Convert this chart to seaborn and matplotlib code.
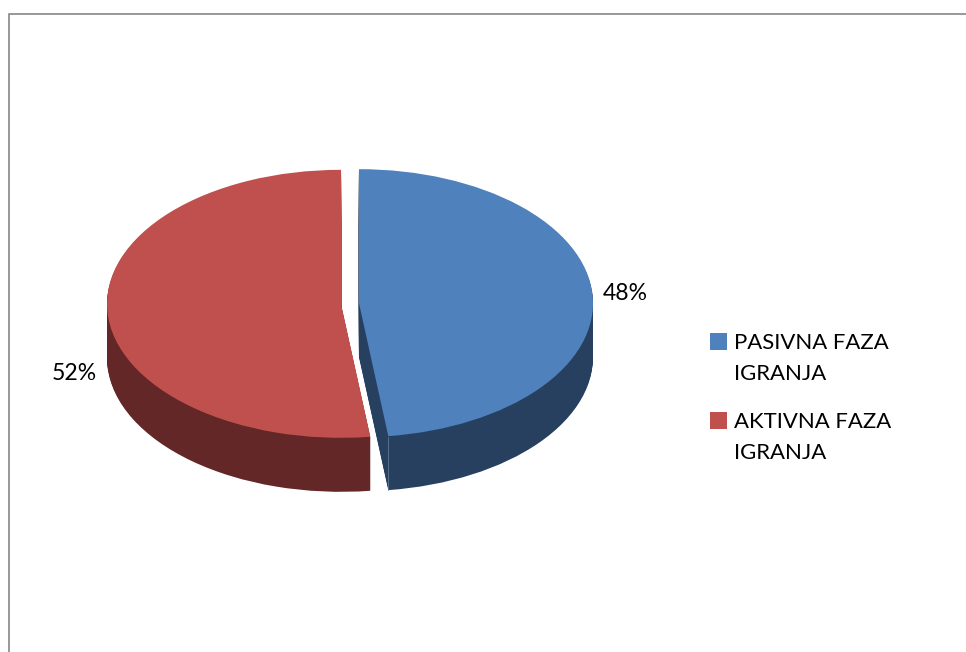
import matplotlib
matplotlib.use("Agg")
import matplotlib.pyplot as plt
from matplotlib.patches import Rectangle
import seaborn as sns

# Share of each play phase, in percent
phases = ["PASIVNA FAZA\nIGRANJA", "AKTIVNA FAZA\nIGRANJA"]
shares = [48, 52]
top_colors = ["#4F81BD", "#C0504D"]
wall_colors = ["#274060", "#622726"]

WIDTH, HEIGHT = 966, 652
CENTER_X, CENTER_Y = 350, 303.5
RADIUS_X, RADIUS_Y = 234, 134
DEPTH = 54
SQUASH = RADIUS_Y / RADIUS_X

sns.set_theme(style="white")
plt.rcParams["font.family"] = ["Lato", "DejaVu Sans"]

fig = plt.figure(figsize=(WIDTH / 100, HEIGHT / 100), dpi=100, facecolor="white")

# Pie axes: x in pixels, y stretched so a round pie renders as a flat ellipse
ax = fig.add_axes([0, 0, 1, 1])
explode = [9] * len(shares)
y_base = (HEIGHT - CENTER_Y) / SQUASH


def draw_layer(offset_px, colors):
    ax.pie(
        shares,
        colors=colors,
        explode=explode,
        startangle=90,
        counterclock=False,
        radius=RADIUS_X,
        center=(CENTER_X, y_base - offset_px / SQUASH),
        wedgeprops={"linewidth": 0},
    )


# Side wall built from stacked copies of the pie, then the lit top face
for offset in range(DEPTH, 0, -1):
    draw_layer(offset, wall_colors)
draw_layer(0, top_colors)

ax.set_aspect("auto")
ax.set_xlim(0, WIDTH)
ax.set_ylim(0, HEIGHT / SQUASH)
ax.set_axis_off()

# Overlay in pixel coordinates for frame, labels and key
overlay = fig.add_axes([0, 0, 1, 1], facecolor="none")
overlay.set_xlim(0, WIDTH)
overlay.set_ylim(HEIGHT, 0)
overlay.set_axis_off()

frame_color = "#868686"
overlay.plot([8.5, 8.5, WIDTH], [HEIGHT, 13.5, 13.5], color=frame_color, lw=1.2,
             solid_joinstyle="miter", clip_on=False)

# Faint highlight where the blue wall meets its cut face
overlay.plot([388, 388], [437, 490], color="#5F7894", lw=0.6)

label_positions = [(625.5, 294), (74, 373.5)]
for share, (x, y) in zip(shares, label_positions):
    overlay.text(x, y, f"{share}%", ha="center", va="center", fontsize=16.6, color="black")

key_rows = [341, 420]
for phase, color, y in zip(phases, top_colors, key_rows):
    overlay.add_patch(Rectangle((710, y - 8.5), 17, 17, facecolor=color, edgecolor="none"))
    overlay.text(734.5, y - 8, phase, ha="left", va="top", fontsize=15.9,
                 color="black", linespacing=1.66)

fig.savefig("out.png", dpi=100, facecolor="white")
